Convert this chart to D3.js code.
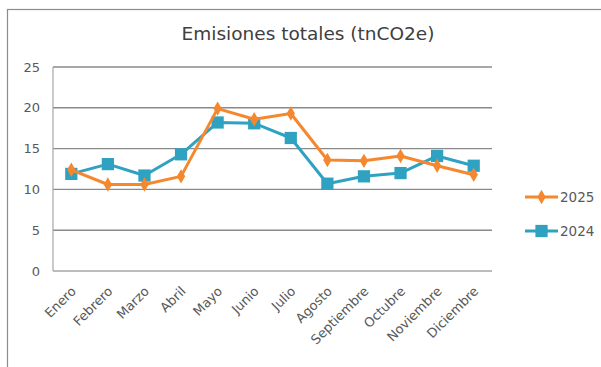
<!DOCTYPE html>
<html><head><meta charset="utf-8">
<script src="https://cdn.jsdelivr.net/npm/d3@7"></script>
<style>html,body{margin:0;padding:0;background:#fff;overflow:hidden}</style>
</head><body>
<svg id="c" width="601" height="367"></svg>
<script>
const months = ["Enero","Febrero","Marzo","Abril","Mayo","Junio","Julio","Agosto","Septiembre","Octubre","Noviembre","Diciembre"];
const values2025 = [12.4,10.6,10.6,11.6,19.9,18.6,19.3,13.6,13.5,14.1,12.9,11.8];
const values2024 = [11.9,13.1,11.7,14.3,18.2,18.1,16.3,10.7,11.6,12.0,14.1,12.9];
const yTicks = [0,5,10,15,20,25];
const seriesNames = ["2025","2024"];
const colors = ["#F5872E","#2FA2C2"];

const font = "'DejaVu Sans', sans-serif";
const svg = d3.select("#c");
const W = 601, H = 367;
const m = {left:53, right:109, top:67, bottom:96};

svg.append("rect").attr("x",7.5).attr("y",9.5).attr("width",700).attr("height",500)
  .attr("fill","#fff").attr("stroke","#8c8c8c").attr("stroke-width",1.2);

const x = d3.scalePoint().domain(months).range([m.left, W - m.right]).padding(0.5);
const y = d3.scaleLinear().domain([0,25]).range([H - m.bottom, m.top]);

// gridlines
svg.append("g").selectAll("line").data(yTicks.filter(d=>d>0)).join("line")
  .attr("x1",m.left).attr("x2",W-m.right)
  .attr("y1",d=>y(d)).attr("y2",d=>y(d))
  .attr("stroke","#8a8a8a").attr("stroke-width",1.4);

// axes lines
svg.append("line").attr("x1",m.left).attr("x2",m.left).attr("y1",y(25)).attr("y2",y(0))
  .attr("stroke","#a6a6a6").attr("stroke-width",1.2);
svg.append("line").attr("x1",m.left).attr("x2",W-m.right).attr("y1",y(0)).attr("y2",y(0))
  .attr("stroke","#a6a6a6").attr("stroke-width",1.6);

// y labels
const yAxis = d3.axisLeft(y).tickValues(yTicks).tickSize(0).tickPadding(13);
const gy = svg.append("g").attr("transform",`translate(${m.left},0)`).call(yAxis);
gy.select(".domain").remove();
gy.selectAll("text").attr("font-family",font).attr("font-size",13).attr("fill","#595959");

// x labels
const xAxis = d3.axisBottom(x).tickSize(0).tickPadding(0);
const gx = svg.append("g").attr("transform",`translate(0,${y(0)})`).call(xAxis);
gx.select(".domain").remove();
gx.selectAll("text").attr("font-family",font).attr("font-size",13).attr("fill","#595959")
  .attr("text-anchor","end").attr("dy",null).attr("y",0)
  .attr("transform","translate(5,21) rotate(-45)");

// title
svg.append("text").attr("x",308).attr("y",40).attr("text-anchor","middle")
  .attr("font-family",font).attr("font-size",18.5).attr("fill","#404040")
  .text("Emisiones totales (tnCO2e)");

const data = [values2025, values2024];
const line = d3.line().x((d,i)=>x(months[i])).y(d=>y(d));
const diamond = d3.symbol().type(d3.symbolDiamond).size(60);
const square = d3.symbol().type(d3.symbolSquare).size(150);

data.slice().reverse().forEach((vals,ri)=>{
  const k = 1 - ri;
  svg.append("path").datum(vals).attr("d",line).attr("fill","none")
    .attr("stroke",colors[k]).attr("stroke-width",3).attr("stroke-linejoin","round");
  svg.append("g").selectAll("path").data(vals).join("path")
    .attr("transform",(d,i)=>`translate(${x(months[i])},${y(d)})`)
    .attr("d", k===0 ? diamond : square).attr("fill",colors[k]);
});

// legend
const legY = [197, 231];
seriesNames.forEach((n,k)=>{
  const g = svg.append("g");
  g.append("line").attr("x1",525).attr("x2",558).attr("y1",legY[k]).attr("y2",legY[k])
    .attr("stroke",colors[k]).attr("stroke-width",3);
  g.append("path").attr("transform",`translate(541.5,${legY[k]})`)
    .attr("d", k===0 ? diamond : square).attr("fill",colors[k]);
  g.append("text").attr("x",560).attr("y",legY[k]+5).attr("font-family",font)
    .attr("font-size",13.5).attr("fill","#595959").text(n);
});
</script>
</body></html>
